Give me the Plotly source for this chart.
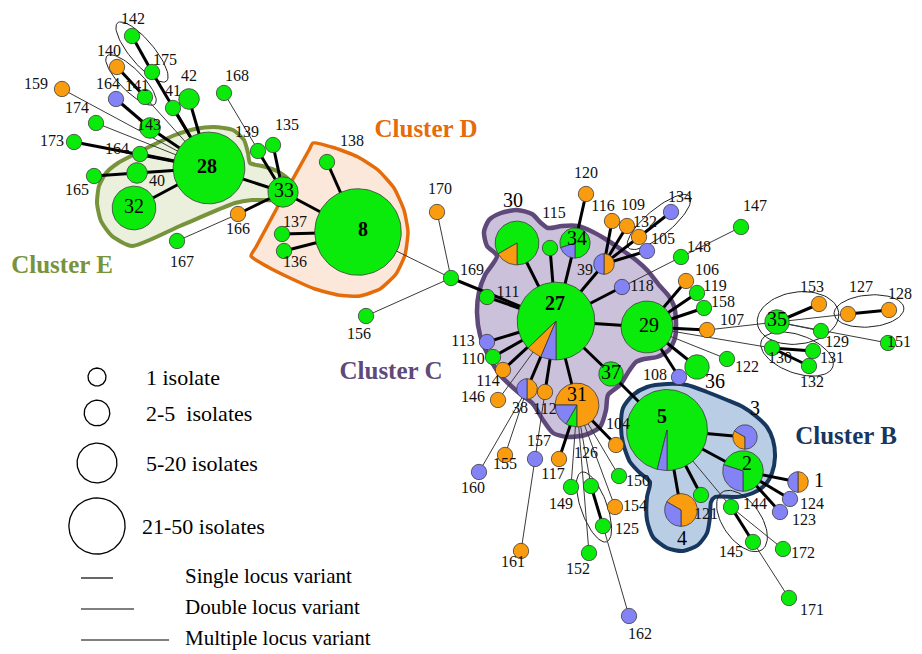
import math
import plotly.graph_objects as go

W, H = 922, 654
PAGE_OFFSET = 8  # default body margin of the html page

# ---------------- data: sequence types (nodes) ----------------
# mix = isolates per source, listed clockwise starting at 6 o'clock (g=green, o=orange, b=blue)
ed_id = ["142", "175", "140", "159", "164a", "141", "41", "42", "168", "174", "143", "173", "164b", "40", "165",
         "28", "32", "139", "135", "33", "166", "167", "137", "136", "138", "8", "170", "169", "156"]
ed_x = [132, 152, 117, 62, 116, 145, 173, 189, 224, 96, 150, 74, 140, 137, 94,
        209, 134, 258, 273, 283, 238, 177, 282, 284, 327, 358, 437, 451, 366]
ed_y = [36, 72, 67, 89, 99, 97, 108, 99, 93, 123, 128, 142, 154, 173, 176,
        168, 208, 151, 145, 192, 214, 241, 234, 251, 162, 232, 212, 278, 316]
ed_mix = ["g1", "g1", "o1", "o1", "b1", "g1", "g1", "g2", "g1", "g1", "g2", "g1", "g1", "g2", "g1",
          "g39", "g12", "g1", "g1", "g5", "o1", "g1", "g1", "g1", "g1", "g61", "o1", "g1", "g1"]

c_id = ["30", "115", "34", "120", "116", "109", "132a", "134", "105", "39", "148", "147", "118", "111", "27",
        "113", "110", "114", "146", "38", "112", "31", "37", "29", "106", "119", "158", "107", "122", "36", "108"]
c_x = [517, 550, 575, 586, 612, 627, 639, 671, 647, 604, 681, 741, 622, 487, 556,
       487, 493, 503, 498, 527, 545, 577, 611, 647, 686, 697, 704, 707, 727, 697, 679]
c_y = [243, 248, 243, 194, 221, 226, 237, 212, 251, 264, 257, 227, 287, 297, 321,
       342, 357, 370, 400, 389, 392, 405, 374, 327, 281, 293, 308, 330, 359, 367, 377]
c_mix = ["o2 g10", "g1", "b1 g4", "o1", "o1", "o1", "o1", "b1", "b1", "b1 o1", "g1", "g1", "b1", "g1", "b3 o3 g41",
         "b1", "g1", "o1", "o1", "b1 o1", "o1", "g1 b2 o9", "g3", "g18", "o1", "g1", "g1", "o1", "g1", "g3", "b1"]

r_id = ["35", "153", "127", "128", "129", "151", "130", "131", "132b"]
r_x = [777, 819, 848, 889, 821, 888, 772, 813, 809]
r_y = [322, 304, 314, 310, 331, 343, 348, 351, 366]
r_mix = ["g3", "o1", "o1", "o1", "g1", "g1", "g1", "g1", "g1"]

s_id = ["104", "150", "154", "125", "126", "149", "152", "162", "117", "157", "155", "160", "161"]
s_x = [616, 619, 615, 603, 591, 571, 589, 629, 559, 535, 505, 479, 521]
s_y = [445, 476, 507, 526, 486, 487, 553, 616, 459, 459, 455, 472, 551]
s_mix = ["o1", "g1", "o1", "g1", "g1", "g1", "g1", "b1", "o1", "b1", "o1", "b1", "o1"]

b_id = ["5", "3", "2", "1", "124", "123", "4", "121", "144", "145", "172", "171"]
b_x = [667, 745, 743, 798, 790, 780, 681, 701, 731, 753, 783, 789]
b_y = [430, 437, 471, 482, 499, 512, 510, 495, 507, 542, 549, 598]
b_mix = ["b2 g50", "o1 b2", "b3 g7", "b1 o1", "b1", "b1", "b2 o4", "g1", "g1", "g1", "g1", "g1"]

# ---------------- data: links ----------------
slv_links = [("142", "175"), ("175", "28"), ("140", "141"), ("164a", "143"), ("143", "28"), ("41", "28"),
             ("42", "28"), ("173", "28"), ("164b", "28"), ("165", "40"), ("40", "28"), ("32", "28"),
             ("28", "33"), ("139", "33"), ("135", "33"), ("166", "33"), ("33", "8"), ("138", "8"),
             ("137", "8"), ("136", "8"), ("169", "27"),
             ("30", "27"), ("115", "27"), ("34", "27"), ("120", "34"), ("39", "27"), ("116", "39"),
             ("109", "39"), ("132a", "39"), ("134", "132a"), ("105", "39"), ("118", "27"), ("111", "27"),
             ("113", "27"), ("110", "27"), ("114", "27"), ("38", "27"), ("112", "27"), ("31", "27"),
             ("37", "27"), ("29", "27"), ("117", "31"), ("104", "31"), ("126", "125"),
             ("106", "29"), ("119", "29"), ("158", "29"), ("107", "29"), ("108", "29"), ("36", "29"),
             ("35", "153"), ("127", "128"), ("130", "131"), ("130", "132b"),
             ("37", "5"), ("5", "3"), ("5", "2"), ("5", "4"), ("5", "121"), ("2", "1"), ("2", "124"),
             ("2", "123"), ("144", "145")]
mlv_links = [("141", "28"), ("159", "28"), ("174", "28"), ("168", "33"), ("167", "166"), ("8", "169"),
             ("170", "169"), ("156", "169"), ("148", "118"), ("147", "148"), ("146", "27"), ("160", "38"),
             ("155", "38"), ("157", "112"), ("161", "157"), ("149", "31"), ("126", "31"), ("152", "31"),
             ("154", "31"), ("150", "31"), ("162", "125"), ("122", "29"), ("107", "35"), ("35", "127"),
             ("35", "151"), ("35", "129"), ("29", "130"), ("5", "144"), ("144", "172"), ("145", "171")]

# ---------------- data: labels ----------------
lab_text = ["142", "175", "140", "159", "164", "141", "41", "42", "168", "174", "143", "173", "164", "40", "165",
            "139", "135", "166", "167", "137", "136", "138", "170", "169", "156",
            "115", "120", "116", "109", "132", "134", "105", "39", "148", "147", "118", "111", "113", "110",
            "114", "146", "38", "112", "106", "119", "158", "107", "122", "108", "153", "127", "128", "129",
            "151", "130", "131", "132",
            "104", "150", "154", "125", "126", "149", "152", "162", "117", "157", "155", "160", "161",
            "124", "123", "121", "144", "145", "172", "171"]
lab_x = [133, 165, 109, 36, 108, 137, 173, 189, 237, 77, 149, 52, 117, 157, 77,
         247, 287, 238, 182, 295, 295, 352, 440, 472, 359,
         554, 586, 603, 633, 645, 680, 663, 585, 699, 755, 642, 508, 463, 473,
         488, 473, 520, 545, 707, 715, 723, 732, 747, 655, 812, 861, 900, 837,
         899, 780, 832, 812,
         618, 638, 635, 627, 586, 561, 578, 640, 553, 539, 505, 473, 513,
         812, 804, 706, 755, 731, 803, 812]
lab_y = [20, 61, 52, 85, 85, 87, 92, 77, 77, 109, 126, 142, 150, 182, 191,
         133, 126, 230, 263, 223, 263, 142, 190, 271, 335,
         214, 174, 207, 206, 223, 198, 240, 271, 248, 207, 287, 293, 342, 360,
         382, 398, 409, 410, 271, 287, 303, 321, 368, 376, 288, 288, 295, 343,
         343, 359, 359, 383,
         425, 482, 507, 530, 454, 505, 570, 635, 475, 442, 465, 489, 563,
         505, 521, 515, 505, 553, 554, 611]

big_text = ["32", "33", "30", "34", "31", "37", "29", "36", "35", "3", "2", "1", "4"]
big_x = [134, 284, 513, 577, 577, 611, 649, 715, 777, 755, 747, 819, 682]
big_y = [208, 192, 202, 240, 396, 374, 327, 383, 321, 410, 465, 482, 540]

bold_text = ["28", "8", "27", "5"]
bold_x = [207, 363, 555, 662]
bold_y = [168, 231, 305, 418]

# ---------------- data: cluster hulls ----------------
hull_D = [(313, 143), (335, 148), (358, 157), (378, 170), (394, 188), (404, 210), (408, 232), (405, 255),
          (396, 274), (380, 289), (360, 296), (338, 295), (315, 289), (290, 278), (268, 267), (251, 256),
          (256, 247), (284, 195), (309, 150), (313, 143)]
hull_E = [(132, 246), (112, 236), (101, 221), (97, 203), (99, 186), (106, 173), (118, 163), (135, 154),
          (155, 144), (175, 135), (195, 129), (214, 127), (233, 130), (244, 140), (248, 153), (250, 163),
          (262, 166), (277, 171), (289, 180), (289, 194), (272, 200), (252, 200), (235, 203), (180, 226),
          (132, 246)]
hull_C = [(497, 256), (487, 246), (484, 232), (489, 220), (501, 213), (517, 210), (532, 214), (541, 223),
          (548, 228), (562, 226), (578, 226), (593, 232), (607, 240), (622, 250), (636, 260), (648, 271),
          (659, 285), (668, 295), (674, 306), (676, 322), (675, 338), (669, 350), (657, 357), (644, 359),
          (636, 362), (629, 371), (620, 385), (608, 395), (606, 410), (600, 427), (585, 435), (568, 437),
          (553, 433), (543, 420), (533, 404), (518, 392), (501, 376), (488, 355), (480, 335), (477, 313),
          (479, 292), (485, 275), (497, 256)]
hull_B = [(623, 408), (633, 395), (647, 387), (667, 384), (687, 385), (707, 392), (727, 400), (743, 407),
          (757, 417), (767, 427), (773, 440), (775, 457), (772, 473), (765, 485), (753, 493), (737, 497),
          (715, 497), (711, 502), (710, 517), (707, 533), (698, 545), (683, 551), (667, 548), (653, 537),
          (647, 520), (647, 497), (650, 482), (640, 473), (630, 462), (623, 443), (621, 427), (623, 408)]

cluster_name = ["Cluster E", "Cluster D", "Cluster C", "Cluster B"]
cluster_tx = [62, 426, 391, 846]
cluster_ty = [267, 131, 373, 438]

# ---------------- data: group ellipses ----------------
ell_cx = [142, 131, 659, 798, 869, 797, 594, 742]
ell_cy = [52, 80, 222, 318, 311, 354, 507, 521]
ell_rx = [38, 34, 40, 41, 35, 38, 37, 35]
ell_ry = [12, 11, 13, 26, 16, 19, 13, 19]
ell_rot = [50, 45, -40, -8, -5, 20, 70, 55]

# ---------------- data: legend ----------------
leg_size_text = ["1 isolate", "2-5\u00a0 isolates", "5-20 isolates", "21-50 isolates"]
leg_size_n = [1, 3, 12, 35]
leg_size_y = [377, 413, 463, 526]
leg_link_text = ["Single locus variant", "Double locus variant", "Multiple locus variant"]
leg_link_y = [578, 609, 640]
leg_link_len = [32, 53, 88]

# ---------------- styles ----------------
COL = {"g": "#0BEB0B", "o": "#FA9C10", "b": "#8383F6"}
SERIF = "Liberation Serif, Times New Roman, serif"


def radius(n):
    return 7.7 * n ** 0.42


def legend_radius(n):
    return 9.0 * n ** 0.32


def parse_mix(m):
    return [(t[0], int(t[1:])) for t in m.split()]


nodes = {}
for ids, xs, ys, ms in [(ed_id, ed_x, ed_y, ed_mix), (c_id, c_x, c_y, c_mix), (r_id, r_x, r_y, r_mix),
                        (s_id, s_x, s_y, s_mix), (b_id, b_x, b_y, b_mix)]:
    for k, x, y, m in zip(ids, xs, ys, ms):
        nodes[k] = (x, y, parse_mix(m))


def arc(cx, cy, r, a0, a1):
    n = max(6, int(abs(a1 - a0) / 4))
    pts = []
    for i in range(n + 1):
        a = math.radians(a0 + (a1 - a0) * i / n)
        pts.append((cx + r * math.sin(a), cy - r * math.cos(a)))
    return pts


fig = go.Figure()


def add_poly(pts, fill, line, width, smoothing=0.7):
    fig.add_trace(go.Scatter(
        x=[p[0] for p in pts], y=[p[1] for p in pts], mode="lines", fill="toself",
        fillcolor=fill, line=dict(color=line, width=width, shape="spline", smoothing=smoothing),
        hoverinfo="skip"))


# hulls
add_poly(hull_D, "#FCE8DA", "#E46C0A", 3.5, smoothing=0.5)
add_poly(hull_E, "#EAF0DC", "#77933C", 4, smoothing=0.6)
add_poly(hull_C, "#CCC1DA", "#5F497A", 4.5, smoothing=0.7)
add_poly(hull_B, "#B9CDE5", "#17375E", 4, smoothing=0.7)

# ellipses
ex, ey = [], []
for cx, cy, rx, ry, rot in zip(ell_cx, ell_cy, ell_rx, ell_ry, ell_rot):
    th = math.radians(rot)
    for i in range(73):
        t = 2 * math.pi * i / 72
        ex.append(cx + rx * math.cos(t) * math.cos(th) - ry * math.sin(t) * math.sin(th))
        ey.append(cy + rx * math.cos(t) * math.sin(th) + ry * math.sin(t) * math.cos(th))
    ex.append(None)
    ey.append(None)
fig.add_trace(go.Scatter(x=ex, y=ey, mode="lines", line=dict(color="#222222", width=1), hoverinfo="skip"))


# links
def link_xy(links):
    xs, ys = [], []
    for a, b in links:
        xs += [nodes[a][0], nodes[b][0], None]
        ys += [nodes[a][1], nodes[b][1], None]
    return xs, ys


lx, ly = link_xy(mlv_links)
fig.add_trace(go.Scatter(x=lx, y=ly, mode="lines", line=dict(color="#3A3A3A", width=1), hoverinfo="skip"))
lx, ly = link_xy(slv_links)
fig.add_trace(go.Scatter(x=lx, y=ly, mode="lines", line=dict(color="#000000", width=3), hoverinfo="skip"))

# nodes (pies)
polys = {"g": ([], []), "o": ([], []), "b": ([], [])}
for k, (x, y, mix) in nodes.items():
    total = sum(n for _, n in mix)
    r = radius(total)
    if len(mix) == 1:
        pts = arc(x, y, r, 0, 360)
        px, py = polys[mix[0][0]]
        px += [p[0] for p in pts] + [None]
        py += [p[1] for p in pts] + [None]
        continue
    a = 180.0
    for c, n in mix:
        a1 = a + 360.0 * n / total
        pts = [(x, y)] + arc(x, y, r, a, a1) + [(x, y)]
        px, py = polys[c]
        px += [p[0] for p in pts] + [None]
        py += [p[1] for p in pts] + [None]
        a = a1
for c in ["g", "o", "b"]:
    fig.add_trace(go.Scatter(x=polys[c][0], y=polys[c][1], mode="lines", fill="toself", fillcolor=COL[c],
                             line=dict(color="#3A3A3A", width=0.8), hoverinfo="skip"))

# labels
fig.add_trace(go.Scatter(x=lab_x, y=lab_y, text=lab_text, mode="text", textposition="middle center",
                         cliponaxis=False,
                         textfont=dict(family=SERIF, size=16, color="#111111"), hoverinfo="skip"))
fig.add_trace(go.Scatter(x=big_x, y=big_y, text=big_text, mode="text", textposition="middle center",
                         cliponaxis=False,
                         textfont=dict(family=SERIF, size=20, color="#000000"), hoverinfo="skip"))
fig.add_trace(go.Scatter(x=bold_x, y=bold_y, text=["<b>%s</b>" % t for t in bold_text], mode="text",
                         textposition="middle center", cliponaxis=False,
                         textfont=dict(family=SERIF, size=20, color="#000000"), hoverinfo="skip"))

# cluster names
cluster_col = ["#77933C", "#E46C0A", "#5F497A", "#17375E"]
for name, tx, ty, col in zip(cluster_name, cluster_tx, cluster_ty, cluster_col):
    fig.add_trace(go.Scatter(x=[tx], y=[ty], text=["<b>%s</b>" % name], mode="text",
                             textposition="middle center", cliponaxis=False,
                             textfont=dict(family=SERIF, size=25, color=col), hoverinfo="skip"))

# legend: sizes
LX = 97
for txt, n, y in zip(leg_size_text, leg_size_n, leg_size_y):
    pts = arc(LX, y, legend_radius(n), 0, 360)
    fig.add_trace(go.Scatter(x=[p[0] for p in pts], y=[p[1] for p in pts], mode="lines",
                             line=dict(color="#000000", width=1.3), hoverinfo="skip"))
fig.add_trace(go.Scatter(x=[146, 146, 146, 142], y=[v + 2 for v in leg_size_y], text=leg_size_text,
                         mode="text", textposition="middle right", cliponaxis=False,
                         textfont=dict(family=SERIF, size=22, color="#000000"), hoverinfo="skip"))
# legend: links
for ln, y in zip(leg_link_len, leg_link_y):
    fig.add_trace(go.Scatter(x=[81, 81 + ln], y=[y, y], mode="lines",
                             line=dict(color="#000000", width=1.2), hoverinfo="skip"))
fig.add_trace(go.Scatter(x=[185] * 3, y=leg_link_y, text=leg_link_text, mode="text",
                         textposition="middle right", cliponaxis=False,
                         textfont=dict(family=SERIF, size=21, color="#000000"), hoverinfo="skip"))

fig.update_layout(
    width=W, height=H, margin=dict(l=0, r=0, t=0, b=0), showlegend=False,
    paper_bgcolor="white", plot_bgcolor="white",
    xaxis=dict(range=[PAGE_OFFSET, W + PAGE_OFFSET], visible=False, fixedrange=True),
    yaxis=dict(range=[H + PAGE_OFFSET, PAGE_OFFSET], visible=False, fixedrange=True),
)
fig.write_html("out.html")
